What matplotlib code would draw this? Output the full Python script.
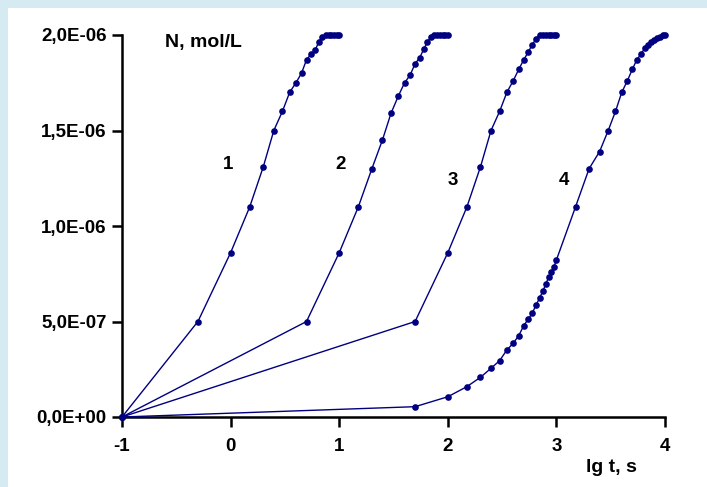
import matplotlib
matplotlib.use("Agg")
import matplotlib.pyplot as plt
from matplotlib.ticker import FuncFormatter, FixedLocator

plt.rcParams['font.family'] = ['Liberation Sans', 'DejaVu Sans']
plt.rcParams['font.weight'] = 'bold'

# lg t (s) and concentration N (mol/L, in units of 1e-6) for each run
lg_t_1 = [-1.0, -0.301, 0.0, 0.176, 0.301, 0.398, 0.477, 0.544, 0.602, 0.653,
          0.699, 0.740, 0.778, 0.813, 0.845, 0.875, 0.903, 0.929, 0.954, 0.978, 1.0]
n_1 = [0.0, 0.50, 0.86, 1.10, 1.31, 1.50, 1.60, 1.70, 1.75, 1.80,
       1.87, 1.90, 1.92, 1.965, 1.99, 2.0, 2.0, 2.0, 2.0, 2.0, 2.0]

lg_t_2 = [-1.0, 0.699, 1.0, 1.176, 1.301, 1.398, 1.477, 1.544, 1.602, 1.653,
          1.699, 1.740, 1.778, 1.813, 1.845, 1.875, 1.903, 1.929, 1.954, 1.978, 2.0]
n_2 = [0.0, 0.50, 0.86, 1.10, 1.30, 1.45, 1.59, 1.68, 1.75, 1.79,
       1.85, 1.88, 1.925, 1.965, 1.99, 2.0, 2.0, 2.0, 2.0, 2.0, 2.0]

lg_t_3 = [-1.0, 1.699, 2.0, 2.176, 2.301, 2.398, 2.477, 2.544, 2.602, 2.653,
          2.699, 2.740, 2.778, 2.813, 2.845, 2.875, 2.903, 2.929, 2.954, 2.978, 3.0]
n_3 = [0.0, 0.50, 0.86, 1.10, 1.31, 1.50, 1.60, 1.70, 1.76, 1.82,
       1.87, 1.91, 1.95, 1.98, 2.0, 2.0, 2.0, 2.0, 2.0, 2.0, 2.0]

lg_t_4 = [-1.0, 1.699, 2.0, 2.176, 2.301, 2.398, 2.477, 2.544, 2.602, 2.653,
          2.699, 2.740, 2.778, 2.813, 2.845, 2.875, 2.903, 2.929, 2.954, 2.978,
          3.0, 3.176, 3.301, 3.398, 3.477, 3.544, 3.602, 3.653, 3.699, 3.740,
          3.778, 3.813, 3.845, 3.875, 3.903, 3.929, 3.954, 3.978, 4.0]
n_4 = [0.0, 0.054, 0.106, 0.159, 0.208, 0.255, 0.295, 0.351, 0.386, 0.426,
       0.478, 0.512, 0.544, 0.587, 0.622, 0.660, 0.695, 0.735, 0.758, 0.787,
       0.822, 1.10, 1.30, 1.39, 1.50, 1.60, 1.70, 1.76, 1.82, 1.87,
       1.90, 1.93, 1.95, 1.965, 1.975, 1.985, 1.99, 1.998, 2.0]

series = [(lg_t_1, n_1), (lg_t_2, n_2), (lg_t_3, n_3), (lg_t_4, n_4)]
curve_labels = ["1", "2", "3", "4"]
label_pos = [(-0.02, 1.32), (1.015, 1.32), (2.05, 1.24), (3.065, 1.24)]

x_ticks = [-1, 0, 1, 2, 3, 4]
y_ticks = [0.0, 0.5e-6, 1.0e-6, 1.5e-6, 2.0e-6]

W, H = 707, 487
fig = plt.figure(figsize=(W / 100, H / 100), dpi=100)
fig.patch.set_facecolor('#d6ebf1')

# white panel inside the light frame
bg = fig.add_axes([8 / W, 0, 1 - 8 / W, 1 - 8 / H], zorder=-10)
bg.set_facecolor('white')
bg.set_xticks([])
bg.set_yticks([])
for s in bg.spines.values():
    s.set_visible(False)

ax = fig.add_axes([122 / W, 1 - 417 / H, (665 - 122) / W, (417 - 35) / H])
ax.set_facecolor('none')

color = '#000080'
for (x, n) in series:
    ax.plot(x, [v * 1e-6 for v in n], color=color, lw=1.0, marker='o',
            markersize=4.8, markeredgewidth=0, clip_on=False, zorder=3)

for lab, (x, y) in zip(curve_labels, label_pos):
    ax.text(x, y * 1e-6, lab, fontsize=13.5, fontweight='bold', ha='center',
            va='center', color='black')

ax.set_xlim(-1, 4)
ax.set_ylim(0, 2.0e-6)
ax.xaxis.set_major_locator(FixedLocator(x_ticks))
ax.yaxis.set_major_locator(FixedLocator(y_ticks))
ax.yaxis.set_major_formatter(FuncFormatter(lambda v, p: f"{v:.1E}".replace('.', ',')))
ax.xaxis.set_major_formatter(FuncFormatter(lambda v, p: f"{int(v)}"))

for side in ('top', 'right'):
    ax.spines[side].set_visible(False)
for side in ('left', 'bottom'):
    ax.spines[side].set_linewidth(1.8)
    ax.spines[side].set_color('black')

ax.tick_params(axis='both', direction='out', length=7, width=1.8, labelsize=13.5,
               colors='black')
ax.tick_params(axis='x', pad=8)
ax.tick_params(axis='y', pad=4)
for lbl in ax.get_xticklabels() + ax.get_yticklabels():
    lbl.set_fontweight('bold')

fig.text(165 / W, 1 - 42 / H, "N, mol/L", fontsize=14, fontweight='bold',
         ha='left', va='center')
fig.text(611 / W, 1 - 468 / H, "lg t, s", fontsize=14, fontweight='bold',
         ha='center', va='center')

fig.savefig("out.png", dpi=100, facecolor=fig.get_facecolor())
